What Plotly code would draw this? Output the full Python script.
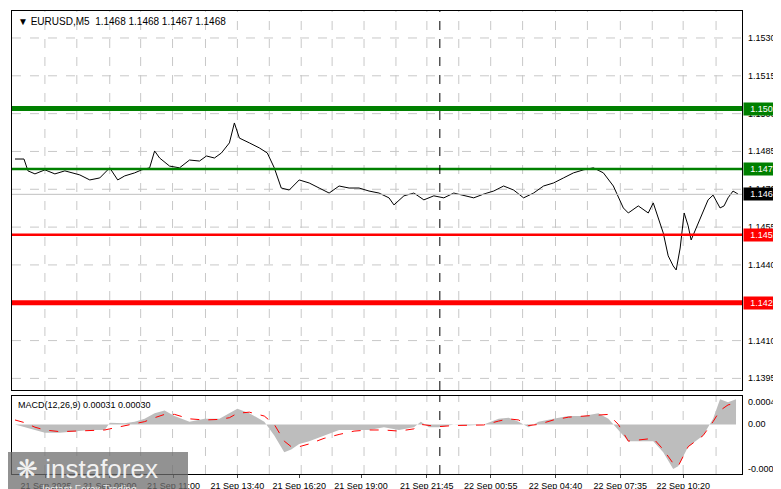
import plotly.graph_objects as go

# price path (bar position, price)
px = [5,14,18,25,35,45,55,70,80,90,100,108,115,125,132,140,145,150,160,170,180,190,197,205,212,220,225,230,240,250,258,265,272,280,290,300,310,320,330,340,350,360,370,380,385,395,405,415,425,435,445,455,465,475,485,495,505,515,525,535,545,555,565,575,585,595,605,615,620,630,640,645,650,655,660,665,668,672,676,680,683,690,700,705,712,716,720,725,730]
py = [1.14820,1.14820,1.14773,1.14761,1.14777,1.14761,1.14773,1.14757,1.14737,1.14745,1.14785,1.14737,1.14753,1.14765,1.14777,1.14785,1.14852,1.14824,1.14792,1.14785,1.14816,1.14812,1.14832,1.14824,1.14844,1.14884,1.14963,1.14903,1.14884,1.14864,1.14844,1.14785,1.14705,1.14697,1.14737,1.14725,1.14705,1.14685,1.14713,1.14705,1.14705,1.14693,1.14685,1.14666,1.14638,1.14674,1.14685,1.14658,1.14674,1.14666,1.14685,1.14674,1.14666,1.14681,1.14693,1.14713,1.14697,1.14666,1.14685,1.14713,1.14725,1.14745,1.14765,1.14777,1.14785,1.14765,1.14713,1.14626,1.14606,1.14634,1.14606,1.14646,1.14586,1.14527,1.14436,1.14396,1.14380,1.14467,1.14606,1.14555,1.14499,1.14566,1.14658,1.14677,1.14626,1.14634,1.14666,1.14693,1.14681]

mx = [5,15,25,35,50,65,80,95,100,115,125,135,145,155,165,180,195,210,220,228,240,255,265,275,282,290,300,315,330,345,360,375,390,405,412,420,430,445,460,475,490,500,510,520,530,545,560,575,590,600,610,620,630,645,655,665,670,680,695,705,712,720,728]
hist = [0.0,-0.00005,-0.0001,-0.00015,-0.00015,-0.00012,-0.0001,-0.0001,0.00003,0.00002,0.00005,0.0001,0.0002,0.00025,0.00015,0.00005,0.0001,0.0001,0.0002,0.00028,0.0002,0.00005,-0.0002,-0.0005,-0.00045,-0.00035,-0.0003,-0.0002,-0.0001,-0.0001,-0.0001,-0.00005,-0.0001,-0.00005,0.00005,-0.00005,-0.00005,0.0,-0.00002,0.0,0.0001,0.00012,0.00005,-0.00005,0.00005,0.0001,0.00015,0.00015,0.0002,0.0001,-0.0001,-0.0003,-0.0003,-0.0003,-0.0005,-0.0008,-0.00075,-0.0004,-0.0002,0.0001,0.00045,0.0004,0.00045]
signal = [0.00008,0.00003,-0.00005,-0.0001,-0.00013,-0.00012,-0.00011,-0.0001,-0.00008,-0.00002,0.00001,0.00005,0.00012,0.00018,0.00018,0.0001,0.00008,0.00009,0.00012,0.0002,0.00022,0.00015,0.0,-0.0003,-0.0004,-0.0004,-0.00035,-0.00025,-0.00018,-0.00012,-0.0001,-0.0001,-0.00012,-0.00008,0.0,-0.00002,-0.00004,-0.00002,-0.00002,-0.00001,0.00006,0.0001,0.00008,-0.00002,0.0,0.00008,0.00013,0.00015,0.00018,0.00018,0.0,-0.0003,-0.00028,-0.00025,-0.00045,-0.0007,-0.00075,-0.0004,-0.0002,0.00005,0.00025,0.00035,0.00038]

tick_x = [36,100,164,228,290,352,418,482,547,612,675,740]
tick_t = ["21 Sep 2025","21 Sep 08:00","21 Sep 11:00","21 Sep 13:40","21 Sep 16:20","21 Sep 19:00","21 Sep 21:45","22 Sep 00:55","22 Sep 04:40","22 Sep 07:35","22 Sep 10:20","22 Sep 13:00"]
grid_x = [35,67,100,131,163,196,228,260,292,323,355,387,418,450,482,514,547,579,612,644,675,708]
price_ticks = [1.1530,1.1515,1.1500,1.1485,1.1470,1.1455,1.1440,1.1425,1.1410,1.1395]
levels = [(1.1502,"green",5),(1.1478,"green",2.5),(1.1452,"red",2.5),(1.1425,"red",5)]
current = 1.1468

fig = go.Figure()
fig.add_trace(go.Scatter(x=px, y=py, mode="lines", line=dict(color="black", width=1), xaxis="x", yaxis="y", showlegend=False, hoverinfo="skip"))
fig.add_trace(go.Scatter(x=mx, y=hist, mode="lines", line=dict(color="#bdbdbd", width=0), fill="tozeroy", fillcolor="#bdbdbd", xaxis="x2", yaxis="y2", showlegend=False, hoverinfo="skip"))
fig.add_trace(go.Scatter(x=mx, y=signal, mode="lines", line=dict(color="red", width=1, dash="dash"), xaxis="x2", yaxis="y2", showlegend=False, hoverinfo="skip"))

shapes = []
for g in grid_x:
    for xr, yr in (("x", "y"), ("x2", "y2")):
        shapes.append(dict(type="line", xref=xr, yref=yr + " domain", x0=g, x1=g, y0=0, y1=1, line=dict(color="#c8c8c8", width=1, dash="dash"), layer="below"))
for t in price_ticks:
    shapes.append(dict(type="line", xref="x domain", yref="y", x0=0, x1=1, y0=t, y1=t, line=dict(color="#c8c8c8", width=1, dash="dash"), layer="below"))
shapes.append(dict(type="line", xref="x domain", yref="y", x0=0, x1=1, y0=current, y1=current, line=dict(color="#c0c0c0", width=1)))
for v, c, w in levels:
    shapes.append(dict(type="line", xref="x domain", yref="y", x0=0, x1=1, y0=v, y1=v, line=dict(color=c, width=w)))
for xr, yr in (("x", "y"), ("x2", "y2")):
    shapes.append(dict(type="line", xref=xr, yref=yr + " domain", x0=431, x1=431, y0=0, y1=1, line=dict(color="black", width=1, dash="dash")))
shapes.append(dict(type="rect", xref="paper", yref="paper", x0=-4/730, x1=176/730, y0=-23/463, y1=22/463, fillcolor="rgba(110,110,110,0.75)", line=dict(width=0)))

ann = []
for t in price_ticks:
    ann.append(dict(xref="paper", yref="y", x=1.0, y=t, text=f"{t:.4f}", showarrow=False, xanchor="left", xshift=4, font=dict(size=9, color="black")))
for v, c in [(1.1502,"green"),(1.1478,"green"),(current,"black"),(1.1452,"red"),(1.1425,"red")]:
    ann.append(dict(xref="paper", yref="y", x=1.0, y=v, text=f"{v:.4f}", showarrow=False, xanchor="left", xshift=1, bgcolor=c, font=dict(size=9, color="white"), borderpad=1, width=38))
for v, s in [(0.0004,"0.0004"),(0.0,"0.00"),(-0.0008,"-0.0008")]:
    ann.append(dict(xref="paper", yref="y2", x=1.0, y=v, text=s, showarrow=False, xanchor="left", xshift=4, font=dict(size=9, color="black")))
ann.append(dict(xref="paper", yref="paper", x=0.005, y=1.0, yshift=-3, text="▼ EURUSD,M5  1.1468 1.1468 1.1467 1.1468", showarrow=False, xanchor="left", yanchor="top", font=dict(size=10, color="black")))
ann.append(dict(xref="paper", yref="paper", x=0.005, y=(466-388)/463, yshift=-2, text="MACD(12,26,9) 0.00031 0.00030", showarrow=False, xanchor="left", yanchor="top", font=dict(size=9, color="black")))
ann.append(dict(xref="paper", yref="paper", x=2/730, y=22/463, text="❋ instaforex", showarrow=False, xanchor="left", yanchor="top", font=dict(size=26, color="rgba(255,255,255,0.9)", family="Arial")))
ann.append(dict(xref="paper", yref="paper", x=28/730, y=-8/463, text="Instant Forex Trading", showarrow=False, xanchor="left", yanchor="top", font=dict(size=10, color="rgba(255,255,255,0.85)")))

ax = dict(range=[2, 734], showgrid=False, zeroline=False, showline=True, mirror=True, linecolor="black", linewidth=1, fixedrange=True)
fig.update_layout(
    width=781, height=489, margin=dict(l=4, r=47, t=3, b=23),
    paper_bgcolor="white", plot_bgcolor="white",
    font=dict(family="Liberation Sans, Arial", size=10),
    xaxis=dict(ax, domain=[0, 1], anchor="y", showticklabels=False, ticks=""),
    yaxis=dict(domain=[(466-382)/463, 1], range=[1.13904, 1.15407], showgrid=False, zeroline=False, showline=True, mirror=True, linecolor="black", showticklabels=False, ticks=""),
    xaxis2=dict(ax, domain=[0, 1], anchor="y2", tickvals=tick_x, ticktext=tick_t, tickangle=0, ticks="outside", ticklen=3, tickfont=dict(size=9, color="black")),
    yaxis2=dict(domain=[0, (466-388)/463], range=[-0.00089, 0.00051], showgrid=False, zeroline=False, showline=True, mirror=True, linecolor="black", showticklabels=False, ticks=""),
    shapes=shapes, annotations=ann,
)
fig.write_html("out.html")
